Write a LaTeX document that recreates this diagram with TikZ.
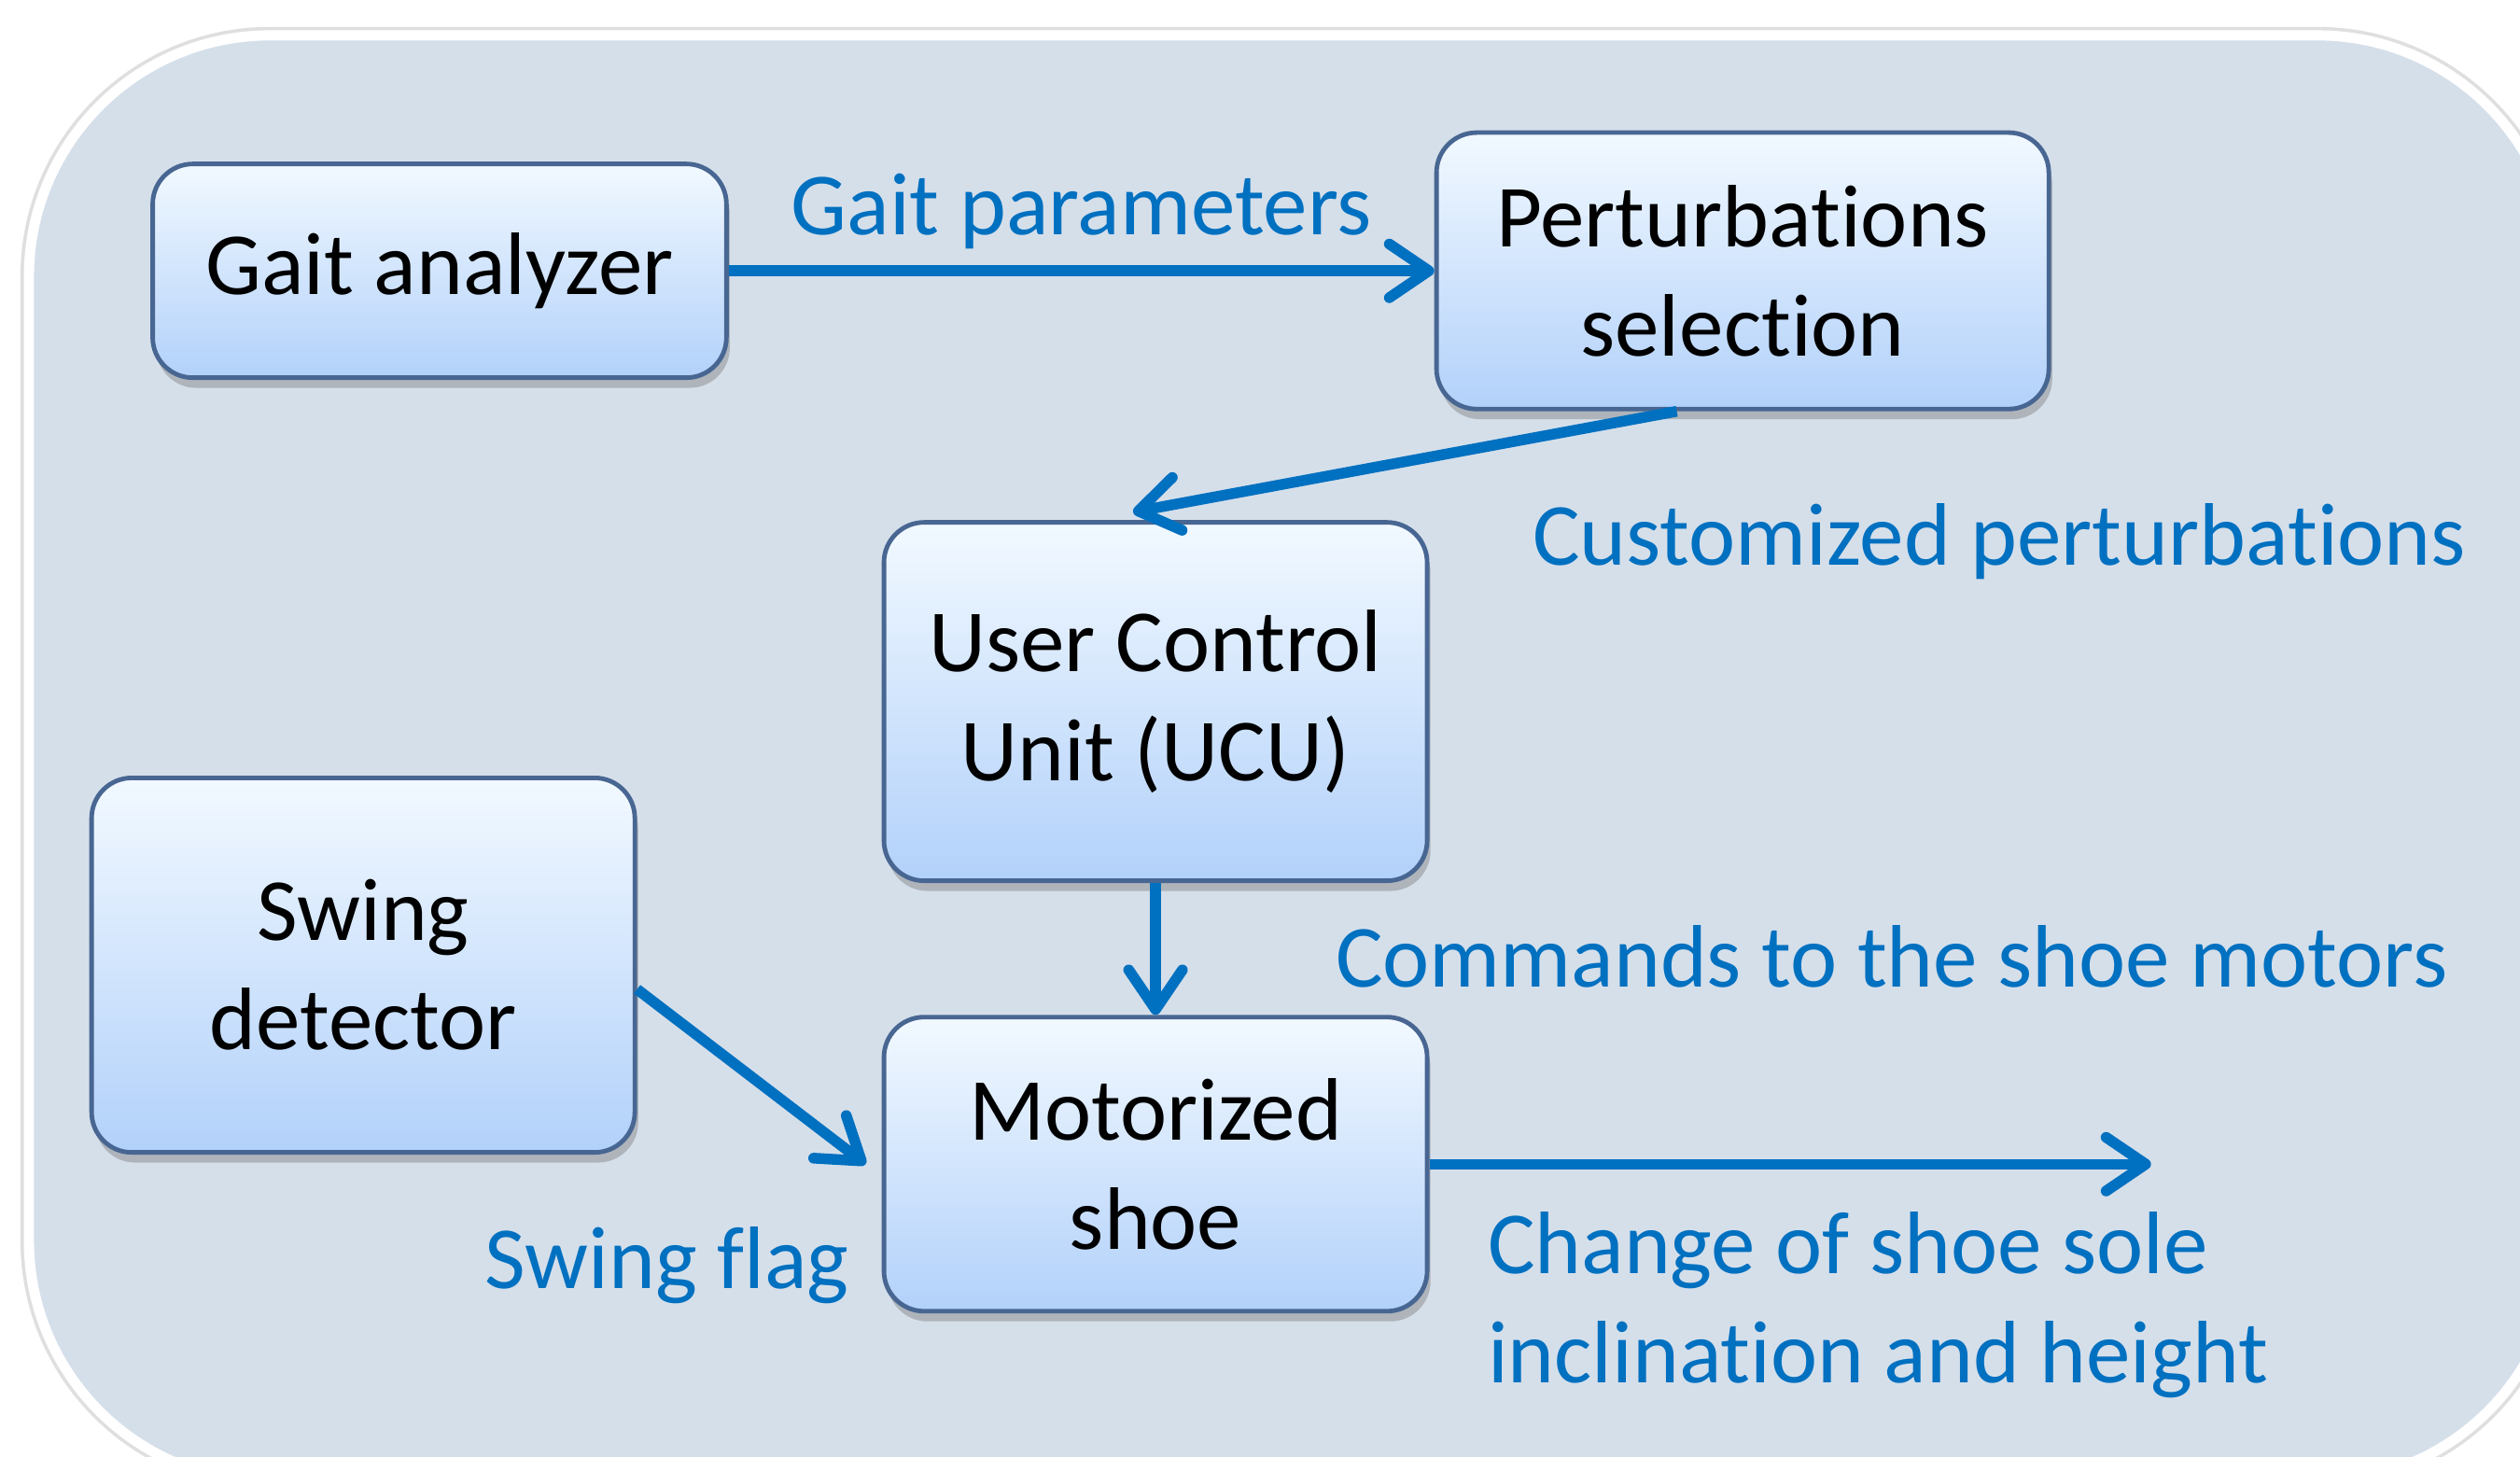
\documentclass[tikz,border=0pt]{standalone}
\usepackage{fontspec}
\setmainfont{Carlito}[Ligatures={NoCommon}]
\usetikzlibrary{positioning,arrows.meta,shadows}
\definecolor{panelbg}{RGB}{213,223,234}
\definecolor{boxtop}{RGB}{242,249,255}
\definecolor{boxbot}{RGB}{178,209,250}
\definecolor{boxline}{RGB}{72,102,146}
\definecolor{flowblue}{RGB}{0,112,192}
\tikzset{
block/.style={rectangle, rounded corners=0.25cm, draw=boxline, line width=0.8pt, % the blue boxes
  top color=boxtop, bottom color=boxbot, align=center,
  drop shadow={shadow xshift=0.6pt, shadow yshift=-1.8pt, opacity=0.45},
  font=\fontsize{15.7}{19.3}\selectfont},
flow/.style={draw=flowblue, line width=1.9pt, -{Straight Barb[length=7pt,width=9.5pt,round]}}, % blue arrows
lbl/.style={text=flowblue, inner sep=0pt, font=\fontsize{15.7}{19.3}\selectfont}, % blue texts
}
\begin{document}
\begin{tikzpicture}
\useasboundingbox (0,0) rectangle (15.68,-9.06);
% panel
\draw[gray!25, line width=3pt, rounded corners=1.5cm] (0.18,-0.22) rectangle (15.92,-9.22);
\draw[fill=panelbg, draw=white, line width=1.8pt, rounded corners=1.5cm] (0.18,-0.22) rectangle (15.92,-9.22);

\node[block, minimum width=3.57cm, minimum height=1.33cm] (gait) at (2.735,-1.685) {Gait analyzer};
\node[block, minimum width=3.81cm, minimum height=1.72cm, right=4.39cm of gait] (pert) {Perturbations\\selection};
\node[block, minimum width=3.38cm, minimum height=2.23cm] (ucu) at (7.19,-4.365) {User Control\\Unit (UCU)};
\node[block, minimum width=3.38cm, minimum height=1.83cm, below=0.82cm of ucu] (shoe) {Motorized\\shoe};
\node[block, minimum width=3.38cm, minimum height=2.33cm] (swing) at (2.26,-6.005) {Swing\\detector};

\coordinate[right=4.49cm of shoe.east] (out);

\node[lbl] (cust) at (12.44,-3.37) {Customized perturbations};
\node[lbl] (cmd) at (11.77,-5.95) {Commands to the shoe motors};
\node[lbl] (flag) at (4.15,-7.87) {Swing flag};
\node[lbl, anchor=west, align=left] (change) at (9.25,-8.12) {Change of shoe sole\\inclination and height};

\draw
(gait) edge[flow] node[lbl, above=0.1cm] {Gait parameters} (pert)
([xshift=-0.41cm]pert.south) edge[flow] ([xshift=-0.14cm, yshift=0.05cm]ucu.north)
(ucu) edge[flow] (shoe)
([yshift=-0.15cm]swing.east) edge[flow] ([xshift=-0.1cm]shoe.west)
(shoe.east) edge[flow] (out);
\end{tikzpicture}
\end{document}
